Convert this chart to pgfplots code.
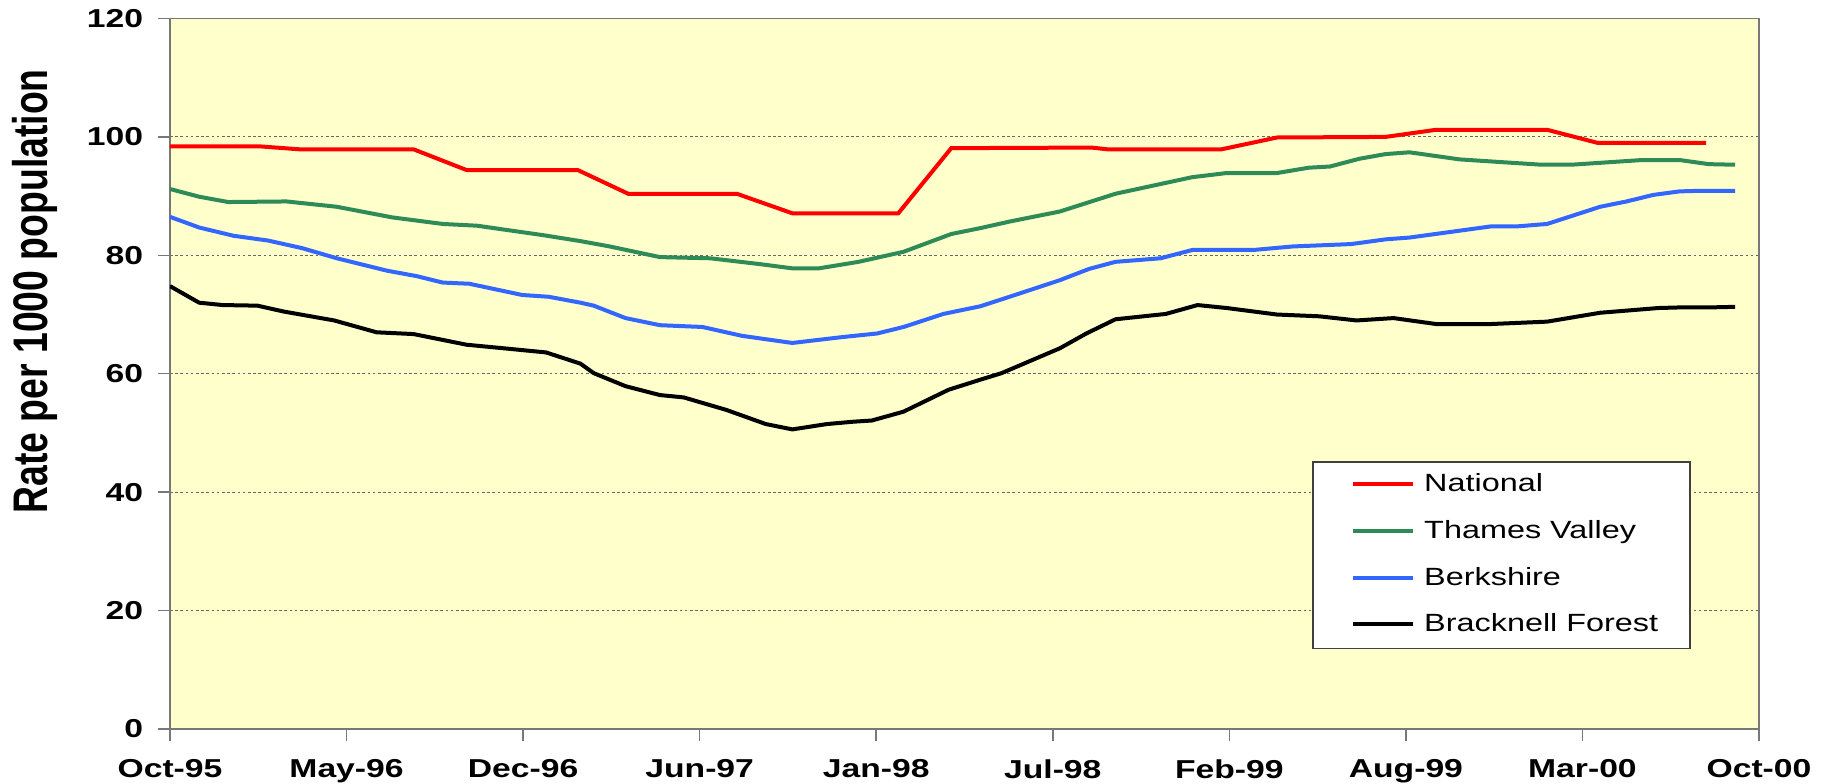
\documentclass[border=0pt]{standalone}
\usepackage{fontspec}
\setmainfont{Liberation Sans}[FakeStretch=1.3]
\newfontfamily\ylabfont{Liberation Sans}
\usepackage{graphicx}
\usepackage{pgfplots}
\pgfplotsset{compat=1.18}
\definecolor{bgyellow}{RGB}{255,255,204}
\definecolor{natred}{RGB}{255,0,0}
\definecolor{tvgreen}{RGB}{46,139,87}
\definecolor{berkblue}{RGB}{51,102,255}
\definecolor{axgray}{RGB}{120,120,120}
\newcommand{\legtxt}[1]{\vphantom{lyT}#1}
\begin{document}
\begin{tikzpicture}
\begin{axis}[
  scale only axis, width=794.5bp, height=355.25bp,
  xmin=0, xmax=60, ymin=0, ymax=120,
  xtick={0,6.66667,13.33333,20,26.66667,33.33333,40,46.66667,53.33333,60},
  xticklabels={Oct-95,May-96,Dec-96,Jun-97,Jan-98,Jul-98,Feb-99,Aug-99,Mar-00,Oct-00},
  ytick={0,20,40,60,80,100,120},
  axis background/.style={fill=bgyellow},
  axis line style={axgray, line width=0.75bp},
  tick style={axgray, line width=0.75bp},
  tick align=outside, major tick length=6bp,
  xtick pos=bottom, ytick pos=left,
  ymajorgrids, grid style={dash pattern=on 1.3bp off 1.3bp, black!60, line width=0.5bp},
  ticklabel style={font=\bfseries\fontsize{13}{15}\selectfont, text=black, inner sep=0pt},
  xticklabel style={yshift=-9.0bp},
  yticklabel style={xshift=-7.3bp},
  /pgf/number format/assume math mode=true,
  ylabel={\scalebox{1}[1.3]{\ylabfont\bfseries\fontsize{18.75}{22}\selectfont Rate per 1000 population}},
  ylabel style={at={(axis description cs:-0.0853,0.616)}, anchor=center, inner sep=0pt},
  legend style={at={(0.719,0.377)}, anchor=north west, draw=black!75, line width=0.75bp,
    fill=white, font=\fontsize{12.5}{15}\selectfont, inner xsep=16bp, inner ysep=6bp,
    row sep=11.85bp, column sep=4.5bp, nodes={inner sep=0pt}},
  legend cell align=left,
  legend image code/.code={\path[draw=none,fill=none] (0bp,-6.2bp) rectangle (34bp,3.8bp); \draw[#1] (4bp,0bp) -- (34bp,0bp);},
]
\addplot[natred, line width=2bp] coordinates {
(0,98.4) (3.4,98.4) (4.9,97.9) (9.2,97.9) (11.2,94.4) (15.4,94.4) (17.3,90.4) (21.4,90.4)
(23.5,87.1) (27.5,87.1) (29.5,98.1) (34.8,98.2) (35.4,97.9) (39.7,97.9) (41.8,99.9) (45.9,100.0)
(47.8,101.2) (52.0,101.2) (53.9,99.0) (58.0,99.0)};
\addlegendentry{\legtxt{National}}
\addplot[tvgreen, line width=2bp] coordinates {
(0,91.2) (1.1,89.9) (2.2,89.0) (4.4,89.1) (6.3,88.2) (8.4,86.4) (10.3,85.3) (11.6,85.0)
(14.1,83.4) (15.5,82.4) (16.6,81.5) (18.5,79.7) (20.4,79.5) (22.3,78.5) (23.5,77.8) (24.5,77.8)
(26.0,78.9) (27.7,80.6) (29.5,83.6) (30.6,84.6) (31.7,85.7) (33.6,87.4) (35.7,90.4) (38.6,93.2)
(39.9,93.9) (41.8,93.9) (43.0,94.8) (43.8,95.0) (44.9,96.3) (45.9,97.1) (46.8,97.4) (48.7,96.2)
(51.8,95.3) (52.9,95.3) (55.6,96.1) (57.0,96.1) (58.1,95.4) (59.1,95.3)};
\addlegendentry{\legtxt{Thames Valley}}
\addplot[berkblue, line width=2bp] coordinates {
(0,86.5) (1.1,84.7) (2.4,83.3) (3.7,82.5) (5.0,81.2) (6.3,79.5) (8.2,77.4) (9.3,76.5)
(10.3,75.4) (11.3,75.2) (13.3,73.3) (14.3,73.0) (15.5,72.0) (16.0,71.5) (17.2,69.4) (18.5,68.2)
(20.1,67.9) (21.6,66.4) (23.5,65.2) (25.4,66.2) (26.7,66.8) (27.7,67.9) (29.2,70.1) (30.6,71.4)
(31.7,73.0) (33.6,75.8) (34.7,77.7) (35.7,78.9) (37.4,79.5) (38.6,80.9) (40.9,80.9) (42.4,81.5)
(44.6,81.9) (45.9,82.7) (46.8,83.0) (49.9,84.9) (50.9,84.9) (52.0,85.3) (54.0,88.2) (55.0,89.1)
(56.0,90.2) (57.0,90.8) (57.8,90.9) (59.1,90.9)};
\addlegendentry{\legtxt{Berkshire}}
\addplot[black, line width=2bp] coordinates {
(0,74.8) (1.1,72.0) (2.0,71.6) (3.3,71.5) (4.3,70.5) (6.2,69.0) (7.8,67.0) (9.2,66.7)
(11.2,64.9) (12.6,64.3) (14.2,63.6) (15.5,61.7) (16.0,60.1) (17.2,57.9) (18.5,56.4) (19.4,56.0)
(21.0,53.9) (22.5,51.5) (23.5,50.6) (24.8,51.5) (25.8,51.9) (26.5,52.1) (27.7,53.6) (29.4,57.3)
(30.6,59.0) (31.4,60.1) (33.6,64.3) (34.6,66.8) (35.7,69.2) (37.6,70.1) (38.8,71.6) (39.9,71.1)
(41.8,70.0) (43.4,69.7) (44.8,69.0) (46.2,69.4) (47.8,68.4) (49.9,68.4) (52.0,68.8) (54.0,70.3)
(56.2,71.1) (57.0,71.2) (58.1,71.2) (59.1,71.3)};
\addlegendentry{\legtxt{Bracknell Forest}}
\coordinate (SW) at (rel axis cs:0,0);
\coordinate (NE) at (rel axis cs:1,1);
\end{axis}
\path ([xshift=-85bp,yshift=-27.5bp]SW) rectangle ([xshift=37bp,yshift=9.25bp]NE);
\end{tikzpicture}
\end{document}
